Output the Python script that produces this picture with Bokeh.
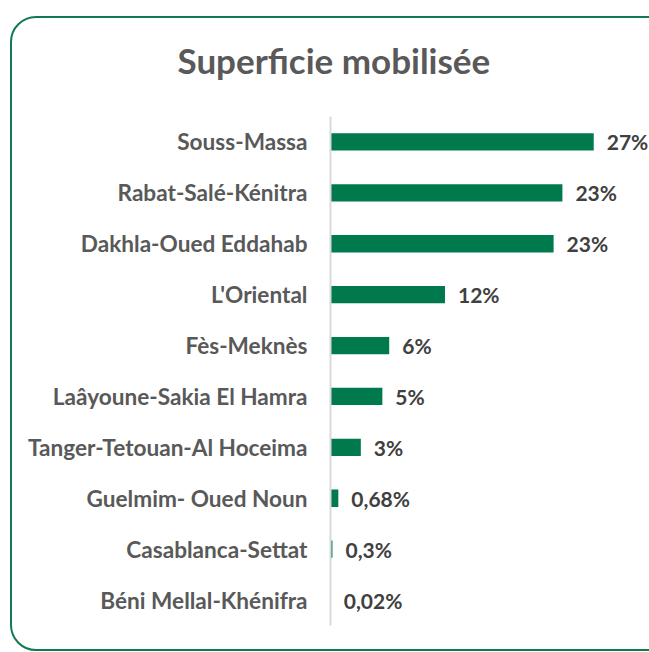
from bokeh.plotting import figure
from bokeh.models import FactorRange, Range1d, ColumnDataSource, Title, InlineStyleSheet
from bokeh.core.properties import value
from bokeh.embed import file_html
from bokeh.resources import INLINE

regions = ["Souss-Massa", "Rabat-Salé-Kénitra", "Dakhla-Oued Eddahab", "L'Oriental",
           "Fès-Meknès", "Laâyoune-Sakia El Hamra", "Tanger-Tetouan-Al Hoceima",
           "Guelmim- Oued Noun", "Casablanca-Settat", "Béni Mellal-Khénifra"]
shares = [26.9, 23.7, 22.8, 11.7, 6.0, 5.3, 3.1, 0.8, 0.2, 0.02]
share_labels = ["27%", "23%", "23%", "12%", "6%", "5%", "3%", "0,68%", "0,3%", "0,02%"]

FONT = "Lato"
GREEN = "#00794c"

src = ColumnDataSource(dict(region=regions, share=shares, label=share_labels))

card_css = InlineStyleSheet(css="""
:host { position: relative; overflow: hidden; }
:host::after {
  content: ''; position: absolute; left: 10px; top: 16px; width: 700px; height: 635px;
  border: 2px solid #127a50; border-radius: 26px; box-sizing: border-box;
  pointer-events: none; z-index: 10;
}
""")

p = figure(width=649, height=652, output_backend="svg", toolbar_location=None,
           y_range=FactorRange(factors=regions[::-1]), x_range=Range1d(0, 32.6),
           min_border_left=330, min_border_right=0, min_border_top=114,
           min_border_bottom=27, outline_line_color=None, background_fill_color=None,
           border_fill_color="white", stylesheets=[card_css])

p.title = Title(text="Superficie mobilisée", align="left", offset=-153, standoff=72,
                text_font=FONT, text_font_size="35px", text_font_style="bold",
                text_color="#595959")

p.hbar(y="region", right="share", left=0, height=0.34, source=src,
       fill_color=GREEN, line_color=None)
p.text(x="share", y="region", text="label", source=src, x_offset=13,
       text_baseline="middle", text_align="left", text_font=value(FONT),
       text_font_size="21px", text_font_style="bold", text_color="#404040")

p.xaxis.visible = False
p.xgrid.visible = False
p.ygrid.visible = False
ax = p.yaxis[0]
ax.axis_line_color = "#d9d9d9"
ax.axis_line_width = 2
ax.major_tick_line_color = None
ax.minor_tick_line_color = None
ax.major_tick_out = 0
ax.major_tick_in = 0
ax.major_label_standoff = 23
ax.major_label_text_font = FONT
ax.major_label_text_font_size = "22.6px"
ax.major_label_text_font_style = "bold"
ax.major_label_text_color = "#595959"

open("out.html", "w").write(file_html(p, INLINE))
